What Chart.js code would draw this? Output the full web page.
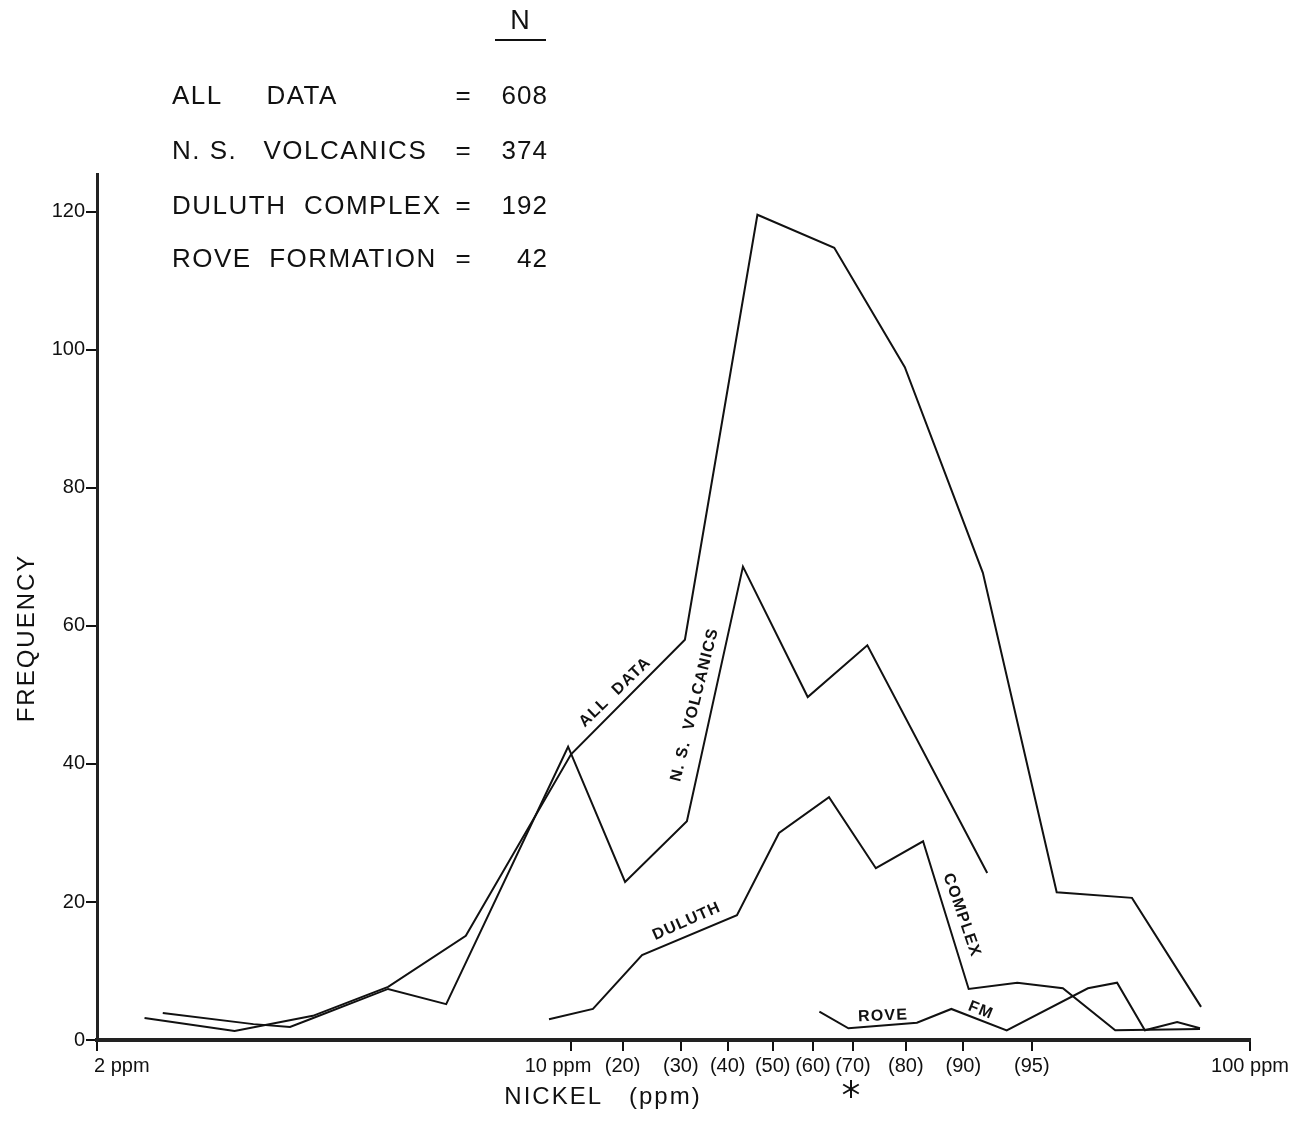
<!DOCTYPE html>
<html>
<head>
<meta charset="utf-8">
<script src="https://cdn.jsdelivr.net/npm/chart.js@4"></script>
<style>
  body { margin: 0; background: #fff; }
  #wrap { width: 1297px; height: 1139px; }
</style>
</head>
<body>
<div id="wrap"><canvas id="nickel"></canvas></div>
<script>
// Nickel (ppm) frequency curves (x in ppm on a log axis)
const allX = [2.35, 3.19, 4.16, 5.37, 6.99, 9.99, 14.7, 18.8, 24.4, 31.0, 40.4, 51.9, 67.0, 84.7];
const allY = [3.2, 1.3, 3.5, 7.7, 15.1, 41.4, 58.0, 119.6, 114.8, 97.5, 67.7, 21.4, 20.6, 4.8];

const nsvX = [2.50, 3.40, 3.85, 4.12, 5.37, 6.54, 9.89, 12.0, 14.8, 17.9, 22.3, 27.3, 41.0];
const nsvY = [3.9, 2.3, 1.9, 3.0, 7.4, 5.2, 42.5, 22.9, 31.7, 68.6, 49.7, 57.2, 24.2];

const duluthX = [9.27, 10.76, 12.71, 17.54, 20.23, 23.97, 28.1, 32.98, 38.5, 45.4, 53.0, 63.3, 84.4];
const duluthY = [3.0, 4.5, 12.3, 18.1, 30.0, 35.2, 24.9, 28.8, 7.4, 8.3, 7.5, 1.4, 1.6];

const roveX = [23.2, 25.6, 32.3, 36.3, 43.8, 57.7, 63.7, 70.0, 78.1, 84.4];
const roveY = [4.1, 1.7, 2.5, 4.5, 1.4, 7.5, 8.3, 1.4, 2.6, 1.7];

// x ticks: ppm values, with cumulative percentile marks in brackets
const xTickVals = [2, 10, 11.9, 14.5, 17.0, 19.8, 22.7, 26.0, 31.1, 37.8, 47.7, 100];
const xTickLabels = ['2 ppm', '10 ppm', '(20)', '(30)', '(40)', '(50)', '(60)', '(70)', '(80)', '(90)', '(95)', '100 ppm'];
const yTickVals = [0, 20, 40, 60, 80, 100, 120];

// key in the upper left
const groupNames = ['ALL     DATA', 'N. S.   VOLCANICS', 'DULUTH  COMPLEX', 'ROVE  FORMATION'];
const groupN = ['608', '374', '192', '42'];

// labels written along the curves: [text, ppm, frequency, angle]
const curveLabels = [
  ['ALL  DATA', 11.6, 50.4, -44],
  ['N. S.  VOLCANICS', 15.2, 48.6, -76],
  ['DULUTH', 14.8, 17.2, -24],
  ['COMPLEX', 37.6, 18.1, 71],
  ['ROVE', 28.8, 3.5, -2],
  ['FM', 40.1, 4.3, 22]
];
const starAt = 26.0; // asterisk under the (70) mark

const FONT = '"Liberation Sans", Arial, sans-serif';
const INK = '#111';

function pts(xs, ys) {
  return xs.map((x, i) => ({ x: x, y: ys[i] }));
}

function line(xs, ys) {
  return {
    data: pts(xs, ys),
    borderColor: INK,
    borderWidth: 2,
    pointRadius: 0,
    tension: 0,
    fill: false
  };
}

function text(ctx, s, x, y, size, opts) {
  opts = opts || {};
  ctx.save();
  ctx.translate(x, y);
  if (opts.angle) ctx.rotate(opts.angle * Math.PI / 180);
  ctx.font = (opts.weight || 'normal') + ' ' + size + 'px ' + FONT;
  ctx.letterSpacing = (opts.spacing || 0) + 'px';
  ctx.fillStyle = INK;
  ctx.textAlign = opts.align || 'center';
  ctx.textBaseline = 'middle';
  ctx.fillText(s, 0, 0);
  ctx.restore();
}

const decorations = {
  id: 'decorations',
  afterDraw(chart) {
    const ctx = chart.ctx;
    const xs = chart.scales.x;
    const ys = chart.scales.y;

    // key
    text(ctx, 'N', 520, 22, 27);
    ctx.save();
    ctx.strokeStyle = INK;
    ctx.lineWidth = 2;
    ctx.beginPath();
    ctx.moveTo(495, 40);
    ctx.lineTo(546, 40);
    ctx.stroke();
    ctx.restore();
    const rowY = [97, 152, 207, 260];
    groupNames.forEach((g, i) => {
      text(ctx, g, 172, rowY[i], 26, { align: 'left', spacing: 1.5 });
      text(ctx, '=', 463, rowY[i], 26);
      text(ctx, groupN[i], 548, rowY[i], 26, { align: 'right', spacing: 1 });
    });

    // x tick labels
    xTickVals.forEach((v, i) => {
      const px = xs.getPixelForValue(v);
      if (i === 0) text(ctx, xTickLabels[i], px - 3, 1066, 20, { align: 'left' });
      else if (i === 1) text(ctx, xTickLabels[i], px + 20, 1066, 20, { align: 'right' });
      else text(ctx, xTickLabels[i], px, 1066, 20);
    });

    // axis titles
    text(ctx, 'NICKEL   (ppm)', 603, 1097, 24, { spacing: 2 });
    text(ctx, 'FREQUENCY', 27, 638, 24, { angle: -90, spacing: 2 });

    // labels on the curves
    curveLabels.forEach(l => {
      text(ctx, l[0], xs.getPixelForValue(l[1]), ys.getPixelForValue(l[2]), 16,
        { angle: l[3], weight: 'bold', spacing: 1.2 });
    });

    // asterisk
    const sx = xs.getPixelForValue(starAt) - 2;
    const sy = 1089;
    ctx.save();
    ctx.strokeStyle = INK;
    ctx.lineWidth = 2;
    [90, 30, 150].forEach(a => {
      const r = a * Math.PI / 180;
      ctx.beginPath();
      ctx.moveTo(sx - 9 * Math.cos(r), sy - 9 * Math.sin(r));
      ctx.lineTo(sx + 9 * Math.cos(r), sy + 9 * Math.sin(r));
      ctx.stroke();
    });
    ctx.restore();
  }
};

new Chart(document.getElementById('nickel').getContext('2d'), {
  type: 'line',
  data: {
    datasets: [
      line(allX, allY),
      line(nsvX, nsvY),
      line(duluthX, duluthY),
      line(roveX, roveY)
    ]
  },
  options: {
    responsive: true,
    maintainAspectRatio: false,
    animation: false,
    layout: { padding: { top: 174, right: 47, left: 0, bottom: 0 } },
    plugins: {
      legend: { display: false },
      tooltip: { enabled: false }
    },
    scales: {
      x: {
        type: 'logarithmic',
        min: 2,
        max: 100,
        afterBuildTicks: s => { s.ticks = xTickVals.map(v => ({ value: v })); },
        afterFit: s => { s.height = 99; },
        ticks: { display: false },
        grid: { drawOnChartArea: false, drawTicks: true, tickLength: 11, color: INK, lineWidth: 2 },
        border: { display: true, color: '#222', width: 4 }
      },
      y: {
        type: 'linear',
        min: 0,
        max: 125.5,
        afterBuildTicks: s => { s.ticks = yTickVals.map(v => ({ value: v })); },
        afterFit: s => { s.width = 97; },
        ticks: { color: INK, padding: 1, font: { family: FONT, size: 20 } },
        grid: { drawOnChartArea: false, drawTicks: true, tickLength: 11, color: INK, lineWidth: 2 },
        border: { display: true, color: '#222', width: 3 }
      }
    }
  },
  plugins: [decorations]
});
</script>
</body>
</html>
